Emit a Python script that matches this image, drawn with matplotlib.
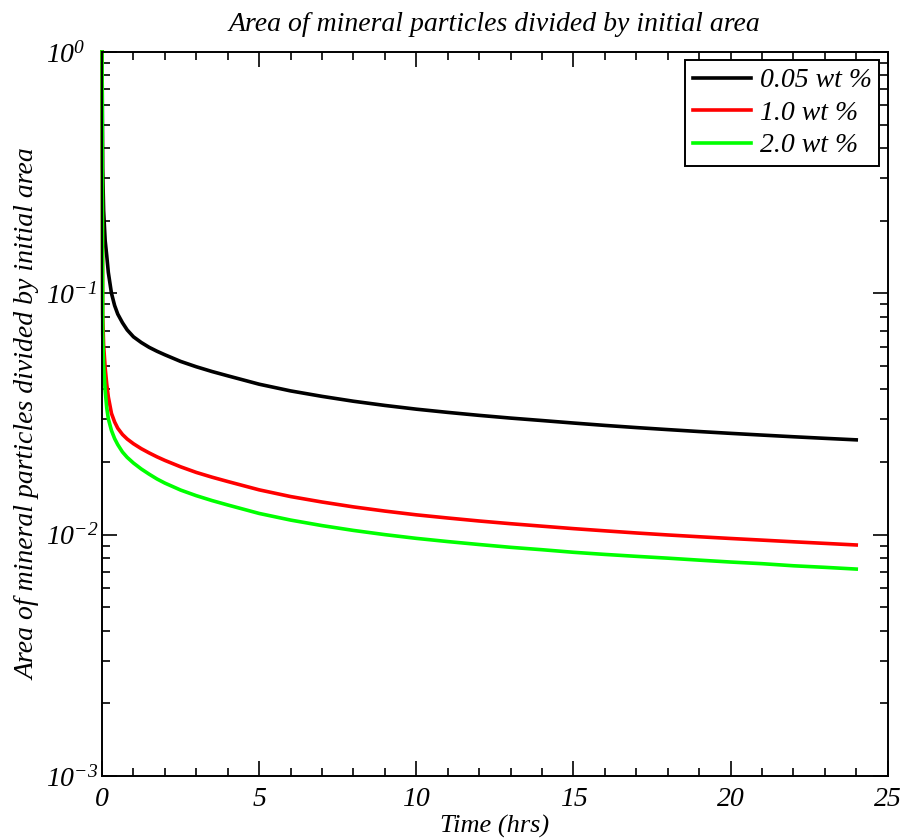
import matplotlib
matplotlib.use('Agg')
import matplotlib.pyplot as plt
from matplotlib.ticker import FixedLocator, LogLocator, NullFormatter

# fontes em estilo Times italico
plt.rcParams['font.family'] = 'Liberation Serif'
plt.rcParams['font.style'] = 'italic'
plt.rcParams['mathtext.fontset'] = 'custom'
plt.rcParams['mathtext.rm'] = 'Liberation Serif:italic'
plt.rcParams['mathtext.it'] = 'Liberation Serif:italic'

# dados (tempo em horas, area relativa)
time_hrs = [0, 0.02, 0.05, 0.1, 0.15, 0.2, 0.3, 0.4, 0.5, 0.65, 0.8, 1.0, 1.25, 1.5, 1.75,
            2.0, 2.5, 3.0, 3.5, 4.0, 5, 6, 7, 8, 9, 10, 11, 12, 13, 14, 15, 16, 17, 18,
            19, 20, 21, 22, 23, 24]
area_005 = [1.0, 0.33, 0.22, 0.165, 0.143, 0.122, 0.100, 0.089, 0.082, 0.0755, 0.0705,
            0.066, 0.0625, 0.0597, 0.0575, 0.0556, 0.0522, 0.0496, 0.0474, 0.0455, 0.0420,
            0.0394, 0.0374, 0.0357, 0.0343, 0.0331, 0.0321, 0.0312, 0.0304, 0.0297, 0.0290,
            0.02835, 0.02777, 0.02724, 0.02674, 0.02628, 0.02585, 0.02544, 0.02506, 0.0247]
area_10 = [1.0, 0.082, 0.061, 0.049, 0.042, 0.0372, 0.0318, 0.0293, 0.0276, 0.0260, 0.0249,
           0.0238, 0.0227, 0.0218, 0.0210, 0.0203, 0.0191, 0.0181, 0.0173, 0.0166, 0.01533,
           0.01438, 0.01365, 0.01303, 0.01252, 0.01208, 0.01172, 0.01139, 0.01110, 0.01084,
           0.01059, 0.01037, 0.01016, 0.00997, 0.00980, 0.00964, 0.00949, 0.00934, 0.00920,
           0.00906]
area_20 = [1.0, 0.068, 0.050, 0.0395, 0.0335, 0.0302, 0.0270, 0.0250, 0.0236, 0.0220, 0.0209,
           0.0198, 0.0187, 0.0178, 0.0170, 0.01635, 0.01530, 0.01450, 0.01384, 0.01327,
           0.01224, 0.01149, 0.01090, 0.01041, 0.01000, 0.00965, 0.00936, 0.00910, 0.00886,
           0.00866, 0.00845, 0.00828, 0.00813, 0.00799, 0.00784, 0.00770, 0.00758, 0.00743,
           0.00732, 0.00720]
labels = ['0.05 wt %', '1.0 wt %', '2.0 wt %']
colors = ['black', '#ff0000', '#00ff00']

fig = plt.figure(figsize=(9.03, 8.4), dpi=100)
ax = fig.add_axes([0.113, 0.0762, 0.870, 0.862])

for y, lab, c in zip([area_005, area_10, area_20], labels, colors):
    ax.plot(time_hrs, y, color=c, linewidth=2.6, label=lab, clip_on=False,
            solid_joinstyle='round')

ax.set_yscale('log')
ax.set_xlim(0, 25)
ax.set_ylim(1e-3, 1)
ax.set_xticks([0, 5, 10, 15, 20, 25])
ax.xaxis.set_minor_locator(FixedLocator([i for i in range(26) if i % 5]))
ax.yaxis.set_major_locator(LogLocator(base=10))
ax.yaxis.set_minor_locator(LogLocator(base=10, subs=range(2, 10)))
ax.yaxis.set_minor_formatter(NullFormatter())

ax.tick_params(which='both', direction='in', top=True, right=True, labelsize=20, width=1.2)
ax.tick_params(which='major', length=11)
ax.tick_params(which='minor', length=6)
ax.tick_params(axis='x', which='major', pad=8)
ax.tick_params(axis='y', which='major', pad=40)
for lbl in ax.get_yticklabels():
    lbl.set_horizontalalignment('left')
for s in ax.spines.values():
    s.set_linewidth(1.4)

ax.set_title('Area of mineral particles divided by initial area', fontsize=20, pad=15)
ax.set_xlabel('Time (hrs)', fontsize=19, labelpad=2)
ax.set_ylabel('Area of mineral particles divided by initial area', fontsize=20)
ax.yaxis.set_label_coords(-0.078, 0.5)

leg = ax.legend(loc='upper right', fontsize=20, fancybox=False, framealpha=1,
                edgecolor='black', handlelength=2.1, borderaxespad=0.3,
                borderpad=0.28, labelspacing=0.25, handletextpad=0.3)
leg.get_frame().set_linewidth(1.4)

plt.savefig('out.png', dpi=100)
plt.close()
